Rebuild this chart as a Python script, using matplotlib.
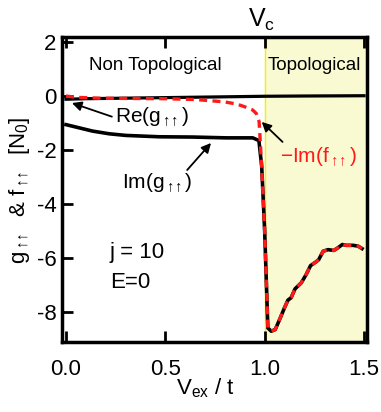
import matplotlib
matplotlib.use('Agg')
import matplotlib.pyplot as plt

plt.rcParams['font.family'] = ['Liberation Sans', 'DejaVu Sans']
plt.rcParams['mathtext.fontset'] = 'custom'
plt.rcParams['mathtext.rm'] = 'Liberation Sans'
plt.rcParams['mathtext.it'] = 'Liberation Sans'
plt.rcParams['mathtext.bf'] = 'Liberation Sans:bold'

# ---- data ----
x_re = [0.0, 0.1, 0.3, 0.5, 0.8, 1.0, 1.2, 1.5]
re_g = [-0.12, -0.1, -0.08, -0.06, -0.03, -0.01, 0.0, 0.01]

x_im = [0.0, 0.067, 0.134, 0.218, 0.302, 0.47, 0.638, 0.806, 0.94, 0.971, 0.985,
        1.0, 1.016, 1.033, 1.053, 1.075, 1.10, 1.117, 1.133, 1.153, 1.184, 1.209,
        1.231, 1.257, 1.272, 1.294, 1.319, 1.348, 1.369, 1.391, 1.411, 1.445, 1.47, 1.49]
im_g = [-1.06, -1.18, -1.30, -1.40, -1.46, -1.51, -1.52, -1.55, -1.55, -1.65, -2.6,
        -5.0, -8.59, -8.71, -8.65, -8.28, -7.84, -7.56, -7.47, -7.14, -6.92, -6.61,
        -6.28, -6.15, -6.06, -5.75, -5.69, -5.72, -5.62, -5.5, -5.53, -5.53, -5.56, -5.65]

x_f = [0.0, 0.05, 0.17, 0.3, 0.5, 0.65, 0.72, 0.8, 0.86, 0.9, 0.94, 0.958, 0.972, 0.985,
       1.0, 1.016, 1.033, 1.053, 1.075, 1.10, 1.117, 1.133, 1.153, 1.184, 1.209,
       1.231, 1.257, 1.272, 1.294, 1.319, 1.348, 1.369, 1.391, 1.411, 1.445, 1.47, 1.49]
neg_im_f = [0.0, -0.05, -0.08, -0.09, -0.1, -0.13, -0.17, -0.22, -0.3, -0.4, -0.52, -0.65,
            -0.95, -2.6, -5.0, -8.59, -8.71, -8.65, -8.28, -7.84, -7.56, -7.47, -7.14,
            -6.92, -6.61, -6.28, -6.15, -6.06, -5.75, -5.69, -5.72, -5.62, -5.5, -5.53,
            -5.53, -5.56, -5.65]

v_c = 1.0
xticks = [0.0, 0.5, 1.0, 1.5]
xticklabels = ['0.0', '0.5', '1.0', '1.5']
yticks = [2, 0, -2, -4, -6, -8]
yticklabels = ['2', '0', '-2', '-4', '-6', '-8']

UU = r'\uparrow\!\!\uparrow'

# ---- figure ----
fig = plt.figure(figsize=(3.81, 4.12), dpi=100)
ax = fig.add_axes([62/381, 1-342/412, (367-62)/381, (342-37)/412])

ax.axvspan(v_c, 1.6, color='#fafad2', zorder=0)
ax.axvline(v_c, color='#f2f200', lw=1.0, zorder=1)

ax.plot(x_re, re_g, color='black', lw=2.3, zorder=3)
ax.plot(x_im, im_g, color='black', lw=2.6, zorder=3)
ax.plot(x_f, neg_im_f, color='#ff1a1a', lw=2.4, ls=(0, (2.4, 1.6)), zorder=4)

ax.set_xlim(-0.02, 1.515)
ax.set_ylim(-9.11, 2.185)
ax.set_xticks(xticks)
ax.set_xticklabels(xticklabels)
ax.set_yticks(yticks)
ax.set_yticklabels(yticklabels)
ax.tick_params(axis='x', direction='in', length=8, width=2, top=True, labelsize=16, pad=12)
ax.tick_params(axis='y', direction='in', length=8, width=2, labelsize=16, pad=4)
for s in ax.spines.values():
    s.set_linewidth(2.5)

fs_t = 13.5
ax.text(0.448, 1.12, 'Non Topological', ha='center', va='center', fontsize=fs_t)
ax.text(1.252, 1.12, 'Topological', ha='center', va='center', fontsize=fs_t)

arrow = dict(arrowstyle='-|>', color='black', lw=1.3, mutation_scale=14)
ax.annotate(r'Re(g$_{%s}$)' % UU, xy=(0.03, -0.26), xytext=(0.245, -0.8),
            fontsize=15, ha='left', va='center',
            arrowprops=dict(arrow, shrinkA=0, shrinkB=0, relpos=(0, 0.5)))
ax.annotate('', xy=(0.73, -1.74), xytext=(0.61, -2.74),
            arrowprops=dict(arrow, shrinkA=0, shrinkB=0))
ax.text(0.28, -3.22, r'Im(g$_{%s}$)' % UU, fontsize=15, ha='left', va='center')
ax.annotate('', xy=(0.985, -0.96), xytext=(1.09, -1.7),
            arrowprops=dict(arrow, shrinkA=0, shrinkB=0))
ax.text(1.075, -2.26, r'$-$Im(f$_{%s}$)' % UU, fontsize=15, ha='left', va='center',
        color='#ff1a1a')

ax.text(0.22, -5.78, 'j = 10', fontsize=16, ha='left', va='center')
ax.text(0.22, -6.89, 'E=0', fontsize=16, ha='left', va='center')

fig.text(262/381, 1-20/412, r'V$_\mathrm{c}$', fontsize=18, ha='center', va='center')
fig.text(205/381, 1-388/412, r'V$_{\mathrm{ex}}$ / t', fontsize=16, ha='center', va='center')
fig.text(20/381, 1-190/412, r'g$_{%s}$  & f$_{%s}$  [N$_0$]' % (UU, UU),
         fontsize=16, ha='center', va='center', rotation=90)

fig.savefig('out.png', dpi=100)
